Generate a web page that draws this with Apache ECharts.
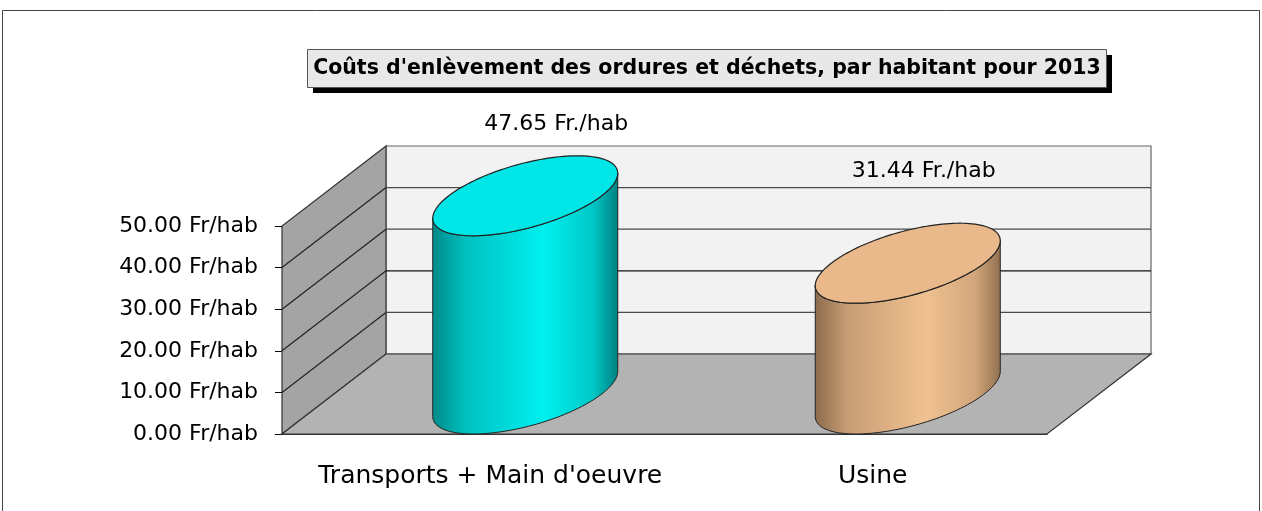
<!DOCTYPE html>
<html>
<head>
<meta charset="utf-8">
<title>Coûts d'enlèvement des ordures et déchets</title>
<script src="https://cdn.jsdelivr.net/npm/echarts@6/dist/echarts.min.js"></script>
<style>
  html, body { margin: 0; padding: 0; background: #fff; }
  #chart { width: 1262px; height: 511px; }
</style>
</head>
<body>
<div id="chart"></div>
<script>
// data
const categories = ['Transports + Main d\'oeuvre', 'Usine']
const values = [47.65, 31.44]
const yMin = 0
const yMax = 50
const yStep = 10
const titleText = 'Coûts d\'enlèvement des ordures et déchets, par habitant pour 2013'

// look
const font = 'DejaVu Sans'
const topColors = ['#00e5e5', '#e9b98b']
const sideColors = [
  ['#008a8a', '#00c0c0', '#00f0f0', '#00c8c8', '#008080'],
  ['#8c6b4d', '#c89e75', '#f0c190', '#d3a77c', '#90704f']
]
const sideStops = [0, 0.18, 0.6, 0.86, 1]
const labelOffsets = [[31, -71], [16, -92]]
const depth = [104, -80]

let chart = echarts.init(document.getElementById('chart'))

function renderWalls(params, api) {
  const cs = params.coordSys
  const x0 = cs.x, x1 = cs.x + cs.width
  const y0 = api.coord([0, yMin])[1]
  const yT = api.coord([0, yMax])[1]
  const dx = depth[0], dy = depth[1]
  const children = []
  // back wall
  children.push({
    type: 'rect',
    shape: { x: x0 + dx, y: yT + dy, width: x1 - x0, height: y0 - yT },
    style: { fill: '#f2f2f2', stroke: '#666', lineWidth: 1.2 }
  })
  // left wall
  children.push({
    type: 'polygon',
    shape: { points: [[x0, y0], [x0, yT], [x0 + dx, yT + dy], [x0 + dx, y0 + dy]] },
    style: { fill: '#a4a4a4', stroke: '#333', lineWidth: 1.2 }
  })
  // floor
  children.push({
    type: 'polygon',
    shape: { points: [[x0, y0], [x1, y0], [x1 + dx, y0 + dy], [x0 + dx, y0 + dy]] },
    style: { fill: '#b3b3b3', stroke: '#333', lineWidth: 1.2 }
  })
  for (let v = yMin + yStep; v < yMax; v += yStep) {
    const y = api.coord([0, v])[1]
    children.push({
      type: 'line',
      shape: { x1: x0, y1: y, x2: x0 + dx, y2: y + dy },
      style: { stroke: '#222', lineWidth: 1.2 }
    })
    children.push({
      type: 'line',
      shape: { x1: x0 + dx, y1: y + dy, x2: x1 + dx, y2: y + dy },
      style: { stroke: v === 20 ? '#111' : '#4a4a4a', lineWidth: 1.3 }
    })
  }
  return { type: 'group', children: children }
}

function renderCylinder(params, api) {
  const i = api.value(0)
  const v = api.value(1)
  const base = api.coord([i, yMin])
  const top = api.coord([i, v])
  const r = api.size([1, 0])[0] * 0.2
  const a = depth[0] / 2, b = depth[1] / 2
  const ct = [top[0] + a, top[1] + b]
  const cb = [base[0] + a, base[1] + b]
  const pt = (c, t) => [c[0] + r * Math.cos(t) + a * Math.sin(t), c[1] + b * Math.sin(t)]
  const tm = Math.atan2(a, r)
  const n = 72
  const body = [], lid = []
  for (let k = 0; k <= n; k++) body.push(pt(cb, tm + Math.PI + k * Math.PI / n))
  for (let k = 0; k <= n; k++) body.push(pt(ct, tm + 2 * Math.PI - k * Math.PI / n))
  for (let k = 0; k < 2 * n; k++) lid.push(pt(ct, k * Math.PI / n))
  const stops = sideColors[i].map((c, j) => ({ offset: sideStops[j], color: c }))
  const off = labelOffsets[i]
  return {
    type: 'group',
    children: [
      {
        type: 'polygon',
        shape: { points: body },
        style: {
          fill: { type: 'linear', x: 0, y: 0, x2: 1, y2: 0, colorStops: stops },
          stroke: '#222', lineWidth: 1
        }
      },
      {
        type: 'polygon',
        shape: { points: lid },
        style: { fill: topColors[i], stroke: '#222', lineWidth: 1.2 }
      },
      {
        type: 'text',
        style: {
          x: ct[0] + off[0], y: ct[1] + off[1],
          text: v.toFixed(2) + ' Fr./hab',
          font: '22px "' + font + '"',
          fill: '#000', align: 'center', verticalAlign: 'middle'
        }
      }
    ]
  }
}

let option = {
  animation: false,
  grid: { left: 282, right: 215, top: 226, bottom: 77 },
  xAxis: {
    type: 'category',
    data: categories,
    axisLine: { show: true, lineStyle: { color: '#333' } },
    axisTick: { show: false },
    axisLabel: {
      interval: 0, color: '#000', fontFamily: font, fontSize: 25,
      margin: 30, padding: [0, 0, 0, 34]
    }
  },
  yAxis: {
    type: 'value',
    min: yMin, max: yMax, interval: yStep,
    axisLine: { show: true, lineStyle: { color: '#000' } },
    axisTick: { show: true, length: 7, lineStyle: { color: '#000' } },
    axisLabel: {
      color: '#000', fontFamily: font, fontSize: 22, margin: 24,
      formatter: v => v.toFixed(2) + ' Fr/hab'
    },
    splitLine: { show: false }
  },
  graphic: [
    {
      type: 'rect', z: -1, silent: true,
      shape: { x: 2.5, y: 10.5, width: 1257, height: 600 },
      style: { fill: 'none', stroke: '#444', lineWidth: 1 }
    },
    {
      type: 'rect', z: 10,
      shape: { x: 313, y: 55, width: 799, height: 38 },
      style: { fill: '#000' }
    },
    {
      type: 'rect', z: 11,
      shape: { x: 307.5, y: 49.5, width: 799, height: 38 },
      style: { fill: '#e8e8e8', stroke: '#555', lineWidth: 1 }
    },
    {
      type: 'text', z: 12,
      style: {
        x: 707, y: 69, text: titleText,
        font: 'bold 20.5px "' + font + '"',
        fill: '#000', align: 'center', verticalAlign: 'middle'
      }
    }
  ],
  series: [
    {
      type: 'custom', z: 1, silent: true,
      data: [[0, 0]],
      encode: { x: 0, y: 1 },
      renderItem: renderWalls
    },
    {
      type: 'custom', z: 3,
      data: values.map((v, i) => [i, v]),
      encode: { x: 0, y: 1 },
      renderItem: renderCylinder
    }
  ]
}
chart.setOption(option)
</script>
</body>
</html>
